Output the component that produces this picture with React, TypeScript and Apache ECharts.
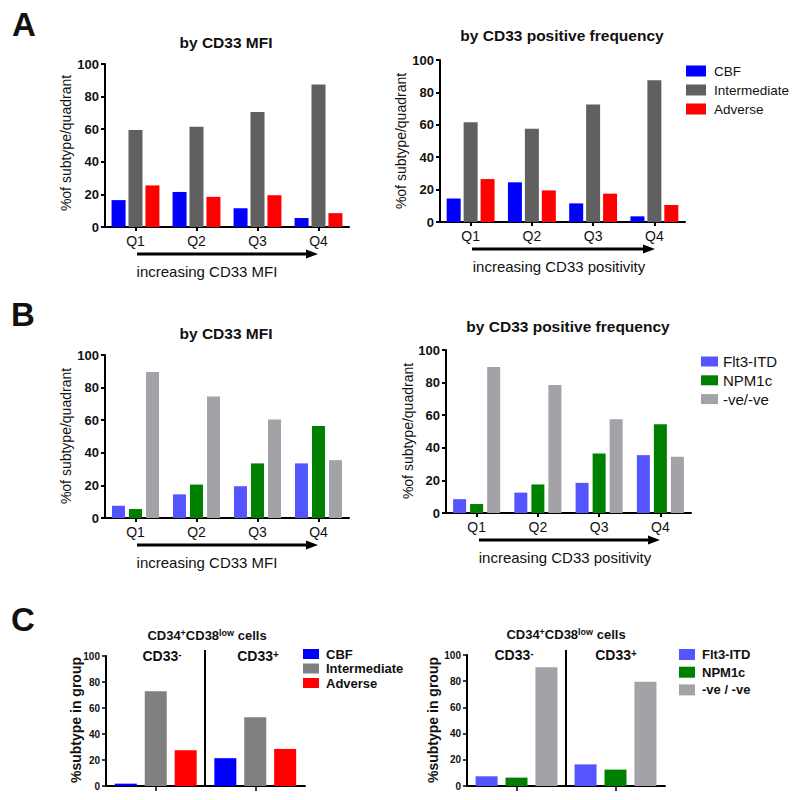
import React, { useEffect, useRef } from "react";
import * as echarts from "echarts";

const FONT = "'Liberation Sans', Arial, sans-serif";

// Categories
const quartiles = ["Q1", "Q2", "Q3", "Q4"];
const cd33Groups = ["CD33-", "CD33+"];
const riskNames = ["CBF", "Intermediate", "Adverse"];
const mutNames = ["Flt3-ITD", "NPM1c", "-ve/-ve"];
const mutNamesC = ["Flt3-ITD", "NPM1c", "-ve / -ve"];
const yTicks = [0, 20, 40, 60, 80, 100];

// Panel A, by CD33 MFI
const aMfiCBF = [16.5, 21.5, 11.5, 5.5];
const aMfiInt = [59.5, 61.5, 70.5, 87.5];
const aMfiAdv = [25.5, 18.5, 19.5, 8.5];
// Panel A, by CD33 positive frequency
const aFreqCBF = [14.5, 24.5, 11.5, 3.5];
const aFreqInt = [61.5, 57.5, 72.5, 87.5];
const aFreqAdv = [26.5, 19.5, 17.5, 10.5];
// Panel B, by CD33 MFI
const bMfiFlt = [7.5, 14.5, 19.5, 33.5];
const bMfiNpm = [5.5, 20.5, 33.5, 56.5];
const bMfiNeg = [89.5, 74.5, 60.5, 35.5];
// Panel B, by CD33 positive frequency
const bFreqFlt = [8.5, 12.5, 18.5, 35.5];
const bFreqNpm = [5.5, 17.5, 36.5, 54.5];
const bFreqNeg = [89.5, 78.5, 57.5, 34.5];
// Panel C, CD34+CD38low cells
const cRiskCBF = [1.8, 21.4];
const cRiskInt = [72.8, 52.8];
const cRiskAdv = [27.5, 28.5];
const cMutFlt = [7.4, 16.5];
const cMutNpm = [6.4, 12.5];
const cMutNeg = [90.6, 79.6];

const riskColorsA = ["#0000FF", "#606060", "#FF0000"];
const riskColorsC = ["#0000FF", "#808080", "#FF0000"];
const mutColors = ["#5555FF", "#008000", "#A2A2A7"];

const grids = [
  { left: 105, top: 64, width: 244, height: 163 },
  { left: 440, top: 60, width: 245, height: 162 },
  { left: 105, top: 355, width: 244, height: 163 },
  { left: 446, top: 350, width: 245, height: 163 },
  { left: 106, top: 656, width: 199, height: 130 },
  { left: 467, top: 655, width: 198, height: 131 },
];

function buildOption() {
  const xAxis: any[] = [];
  const yAxis: any[] = [];
  grids.forEach((g, i) => {
    const isC = i >= 4;
    xAxis.push({
      gridIndex: i,
      type: "category",
      data: isC ? cd33Groups : quartiles,
      axisLine: { show: true, lineStyle: { color: "#000", width: 2 } },
      axisTick: { show: true, alignWithLabel: true, length: isC ? 5 : 4, lineStyle: { color: "#000", width: isC ? 1.5 : 2 } },
      axisLabel: { show: !isC, fontSize: 14, color: "#111", margin: 7, fontFamily: FONT },
      splitLine: { show: false },
    });
    yAxis.push({
      gridIndex: i,
      type: "value",
      min: yTicks[0],
      max: yTicks[yTicks.length - 1],
      interval: 20,
      axisLine: { show: true, lineStyle: { color: "#000", width: 2 } },
      axisTick: { show: true, length: 4, lineStyle: { color: "#000", width: isC ? 1.5 : 2 } },
      axisLabel: { fontSize: isC ? 10 : 13, fontWeight: "bold", color: "#111", margin: 6, fontFamily: FONT },
      splitLine: { show: false },
    });
  });

  const series: any[] = [];
  const addGroup = (idx: number, names: string[], colors: string[], datas: number[][], barWidth: number, barGap: string) => {
    names.forEach((n, k) => {
      series.push({
        type: "bar",
        name: n,
        xAxisIndex: idx,
        yAxisIndex: idx,
        data: datas[k],
        barWidth,
        barGap,
        itemStyle: { color: colors[k] },
      });
    });
  };
  addGroup(0, riskNames, riskColorsA, [aMfiCBF, aMfiInt, aMfiAdv], 14, "21%");
  addGroup(1, riskNames, riskColorsA, [aFreqCBF, aFreqInt, aFreqAdv], 14, "21%");
  addGroup(2, mutNames, mutColors, [bMfiFlt, bMfiNpm, bMfiNeg], 13, "31%");
  addGroup(3, mutNames, mutColors, [bFreqFlt, bFreqNpm, bFreqNeg], 13, "31%");
  addGroup(4, riskNames.map((n) => n + " "), riskColorsC, [cRiskCBF, cRiskInt, cRiskAdv], 22, "36%");
  addGroup(5, mutNamesC, mutColors, [cMutFlt, cMutNpm, cMutNeg], 22, "36%");

  const legend = (left: number, top: number, names: string[], colors: string[], w: number, h: number, fs: number, bold: boolean, gap: number, pad: number, trim?: boolean) => ({
    orient: "vertical",
    left,
    top,
    padding: 0,
    itemWidth: w,
    itemHeight: h,
    itemGap: gap,
    icon: "rect",
    selectedMode: false,
    formatter: trim ? (name: string) => name.trim() : undefined,
    textStyle: { fontSize: fs, fontWeight: bold ? "bold" : "normal", color: "#111", fontFamily: FONT, padding: [0, 0, 0, pad] },
    data: names.map((n, k) => ({ name: n, itemStyle: { color: colors[k] } })),
  });

  const legends = [
    legend(686, 64, riskNames, riskColorsA, 20, 11, 13.5, false, 5, 3),
    legend(701, 354, mutNames, mutColors, 17, 10, 15, false, 3.8, 0),
    legend(303, 647.5, riskNames.map((n) => n + " "), riskColorsC, 16, 10, 13, true, 1.5, 2, true),
    legend(679, 648, mutNamesC, mutColors, 16, 11, 13, true, 4.7, 2),
  ];

  const txt = (text: string, x: number, y: number, fs: number, bold: boolean, extra: any = {}) => ({
    type: "text",
    x,
    y,
    silent: true,
    ...extra,
    style: {
      text,
      fontSize: fs,
      fontWeight: bold ? "bold" : "normal",
      fill: "#111",
      fontFamily: FONT,
      align: "center",
      verticalAlign: "middle",
    },
  });

  const arrow = (x1: number, x2: number, y: number) => [
    { type: "line", silent: true, shape: { x1, y1: y, x2: x2 - 10, y2: y }, style: { stroke: "#000", lineWidth: 3 } },
    { type: "polygon", silent: true, shape: { points: [[x2 - 12, y - 4.5], [x2, y], [x2 - 12, y + 4.5]] }, style: { fill: "#000" } },
  ];

  const supRich = {
    n: { fontSize: 14, fontWeight: "bold", fontFamily: FONT, fill: "#111", lineHeight: 14 },
    s: { fontSize: 10, fontWeight: "bold", fontFamily: FONT, fill: "#111", lineHeight: 14, verticalAlign: "top" },
    t: { fontSize: 13, fontWeight: "bold", fontFamily: FONT, fill: "#111", lineHeight: 13 },
    u: { fontSize: 9, fontWeight: "bold", fontFamily: FONT, fill: "#111", lineHeight: 13, verticalAlign: "top" },
  };
  const richText = (text: string, x: number, y: number) => ({
    type: "text",
    x,
    y,
    silent: true,
    style: { text, rich: supRich, align: "center", verticalAlign: "middle", fontFamily: FONT },
  });

  const graphic: any[] = [
    txt("A", 24, 24, 33, true),
    txt("B", 23, 314, 33, true),
    txt("C", 23, 619, 33, true),
    txt("by CD33 MFI", 226, 42, 15.5, true),
    txt("by CD33 positive frequency", 562, 35, 15.5, true),
    txt("by CD33 MFI", 226, 333, 15.5, true),
    txt("by CD33 positive frequency", 568, 326, 15.5, true),
    txt("%of subtype/quadrant", 66, 143, 14, false, { rotation: Math.PI / 2 }),
    txt("%of subtype/quadrant", 401, 141, 14, false, { rotation: Math.PI / 2 }),
    txt("%of subtype/quadrant", 66, 436, 14, false, { rotation: Math.PI / 2 }),
    txt("%of subtype/quadrant", 408, 431, 14, false, { rotation: Math.PI / 2 }),
    txt("%subtype in group", 76, 720, 14, true, { rotation: Math.PI / 2 }),
    txt("%subtype in group", 433, 720, 14, true, { rotation: Math.PI / 2 }),
    ...arrow(137, 318, 254),
    ...arrow(472, 655, 249),
    ...arrow(137, 318, 545),
    ...arrow(479, 660, 540),
    txt("increasing CD33 MFI", 207, 271, 15, false),
    txt("increasing CD33 positivity", 559, 266, 15, false),
    txt("increasing CD33 MFI", 207, 562, 15, false),
    txt("increasing CD33 positivity", 565, 557, 15, false),
    richText("{t|CD34}{u|+}{t|CD38}{u|low}{t| cells}", 207, 635),
    richText("{t|CD34}{u|+}{t|CD38}{u|low}{t| cells}", 566, 634),
    richText("{n|CD33}{s|-}", 162, 656),
    richText("{n|CD33}{s|+}", 258, 656),
    richText("{n|CD33}{s|-}", 514, 655),
    richText("{n|CD33}{s|+}", 616, 655),
    { type: "line", silent: true, shape: { x1: 205, y1: 650, x2: 205, y2: 786 }, style: { stroke: "#000", lineWidth: 2 } },
    { type: "line", silent: true, shape: { x1: 566, y1: 650, x2: 566, y2: 786 }, style: { stroke: "#000", lineWidth: 2 } },
  ];

  return {
    animation: false,
    backgroundColor: "#fff",
    textStyle: { fontFamily: FONT },
    grid: grids.map((g) => ({ ...g, containLabel: false })),
    xAxis,
    yAxis,
    series,
    legend: legends,
    graphic,
  };
}

export default function App() {
  const ref = useRef<HTMLDivElement>(null);
  useEffect(() => {
    if (!ref.current) return;
    const chart = echarts.init(ref.current, null, { renderer: "svg" });
    chart.setOption(buildOption() as any);
    return () => chart.dispose();
  }, []);
  return <div ref={ref} style={{ position: "fixed", left: 0, top: 0, width: 800, height: 800 }} />;
}
